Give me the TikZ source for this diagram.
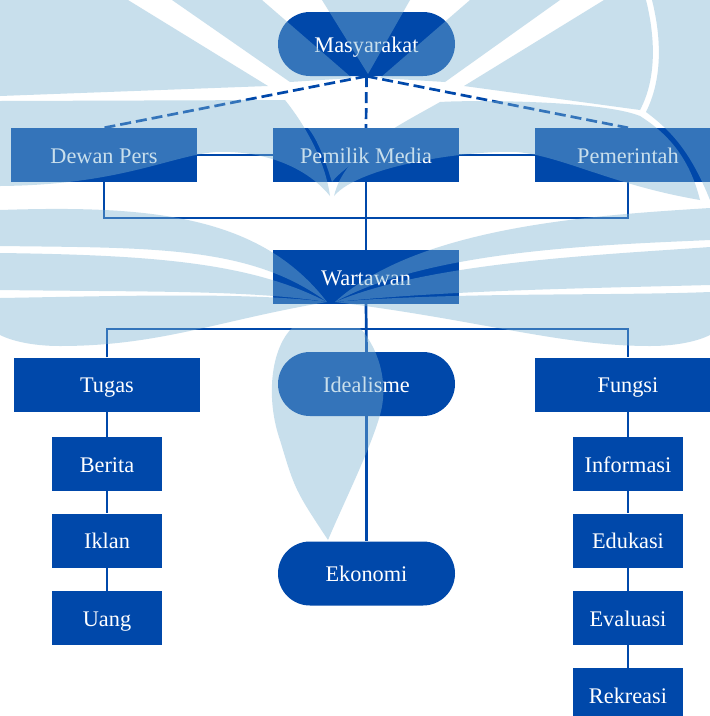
\documentclass[tikz,border=0pt]{standalone}
\usepackage{fontspec}
\setmainfont{Liberation Serif}
\usetikzlibrary{shapes.misc}
\definecolor{myblue}{RGB}{0,72,170}
\definecolor{wmark}{RGB}{126,179,210}
\begin{document}
\begin{tikzpicture}[x=1pt,y=-1pt,
  every node/.style={font=\fontsize{22.3}{26}\selectfont, text=white, inner sep=0pt, text height=16pt, text depth=0pt},
  bigbox/.style={rectangle, fill=myblue, minimum width=186pt, minimum height=54pt},
  smallbox/.style={rectangle, fill=myblue, minimum width=110pt, minimum height=54pt},
  pill/.style={rounded rectangle, fill=myblue, minimum width=177pt, minimum height=64pt},
  conn/.style={draw=myblue, line width=2.7pt},
  dconn/.style={draw=myblue, line width=2.7pt, dash pattern=on 11pt off 5pt}]
\useasboundingbox (0,0) rectangle (710,716);
\fill[white] (0,0) rectangle (710,716);

\coordinate (j1) at (366,218);
\coordinate (j2) at (366,329);
\node[pill] (mas) at (366.5,44) {Masyarakat};
\node[bigbox] (dewan) at (104,155) {Dewan Pers};
\node[bigbox] (pemilik) at (366,155) {Pemilik Media};
\node[bigbox] (pemerintah) at (628,155) {Pemerintah};
\node[bigbox] (wartawan) at (366,277) {Wartawan};
\node[bigbox] (tugas) at (107,384.5) {Tugas};
\node[pill] (ideal) at (366.5,384) {Idealisme};
\node[bigbox] (fungsi) at (628,384.5) {Fungsi};
\node[smallbox] (berita) at (107,464) {Berita};
\node[smallbox] (iklan) at (107,540.5) {Iklan};
\node[smallbox] (uang) at (107,618) {Uang};
\node[smallbox] (info) at (628,464) {Informasi};
\node[smallbox] (edu) at (628,540.5) {Edukasi};
\node[smallbox] (eval) at (628,618) {Evaluasi};
\node[smallbox] (rek) at (628,695) {Rekreasi};
\node[pill] (eko) at (366.5,573.5) {Ekonomi};

\path[dconn] (mas.south) -- (dewan.north);
\path[dconn] (mas.south) -- (pemilik.north);
\path[dconn] (mas.south) -- (pemerintah.north);
\path[conn] (dewan.east) -- (pemilik.west);
\path[conn] (pemilik.east) -- (pemerintah.west);
\path[conn] (dewan.south) |- (j1) -| (pemerintah.south);
\path[conn] (pemilik.south) -- (wartawan.north);
\path[conn] (wartawan.south) -- (ideal.north);
\path[conn] (tugas.north) |- (j2) -| (fungsi.north);
\path[conn] (tugas.south) -- (berita.north);
\path[conn] (berita.south) -- (iklan.north);
\path[conn] (iklan.south) -- (uang.north);
\path[conn] (fungsi.south) -- (info.north);
\path[conn] (info.south) -- (edu.north);
\path[conn] (edu.south) -- (eval.north);
\path[conn] (eval.south) -- (rek.north);
\path[conn] (ideal.south) -- (eko.north);

% watermark (approximate)
\begin{scope}[transparency group, opacity=0.42]
\fill[wmark] (0,0) -- (128,0) -- (268,86) -- (0,96) -- cycle;
\fill[wmark] (172,0) -- (262,0) -- (352,78) -- (290,82) -- cycle;
\fill[wmark] (322,0) -- (410,0) -- (368,74) -- cycle;
\fill[wmark] (470,0) -- (560,0) -- (445,82) -- (380,78) -- cycle;
\fill[wmark] (604,0) -- (646,0) .. controls (656,40) and (656,80) .. (640,110) -- (464,86) -- cycle;
\fill[wmark] (652,0) -- (710,0) -- (710,200) .. controls (690,150) and (670,130) .. (646,112) .. controls (662,80) and (662,40) .. cycle;
% upper lobes
\fill[wmark] (0,101) -- (285,100) .. controls (305,125) and (325,160) .. (330,196)
  .. controls (305,165) and (260,150) .. (215,152)
  .. controls (170,156) and (120,185) .. (0,186) -- cycle;
\fill[wmark] (640,116) .. controls (600,100) and (470,100) .. (440,102)
  .. controls (400,125) and (345,150) .. (334,196)
  .. controls (360,165) and (470,150) .. (517,152)
  .. controls (562,156) and (612,185) .. (700,200) .. controls (690,160) and (670,135) .. cycle;
\fill[wmark] (308,128) -- (425,128) .. controls (380,145) and (345,165) .. (332,182) .. controls (325,160) and (318,140) .. cycle;
% middle bands left
\fill[wmark] (0,210) .. controls (150,205) and (260,215) .. (327,302)
  .. controls (250,245) and (150,248) .. (0,246) -- cycle;
\fill[wmark] (0,253) .. controls (150,255) and (250,262) .. (327,302)
  .. controls (250,290) and (150,292) .. (0,290) -- cycle;
\fill[wmark] (0,298) .. controls (120,296) and (250,292) .. (327,302)
  .. controls (220,320) and (160,346) .. (60,346) .. controls (30,346) and (10,340) .. (0,335) -- cycle;
% middle bands right
\fill[wmark] (710,208) .. controls (600,215) and (420,225) .. (335,302)
  .. controls (430,250) and (600,245) .. (710,240) -- cycle;
\fill[wmark] (710,247) .. controls (600,255) and (430,262) .. (335,302)
  .. controls (450,290) and (600,288) .. (710,285) -- cycle;
\fill[wmark] (710,292) .. controls (610,296) and (450,292) .. (335,302)
  .. controls (480,320) and (560,346) .. (650,346) .. controls (680,346) and (700,340) .. (710,335) -- cycle;
% centre drop
\fill[wmark] (292,328) .. controls (270,350) and (266,400) .. (280,440)
  .. controls (295,490) .. (328,540)
  .. controls (345,500) and (370,450) .. (380,415)
  .. controls (390,380) and (376,345) .. (360,328) -- cycle;
\end{scope}
\end{tikzpicture}
\end{document}
